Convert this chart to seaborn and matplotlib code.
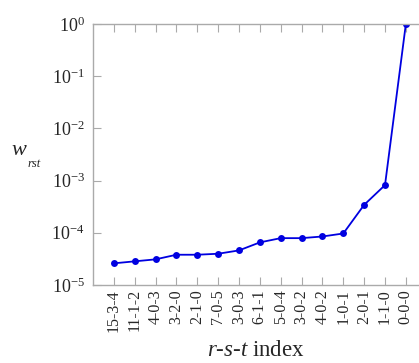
import matplotlib
matplotlib.use("Agg")
import matplotlib.pyplot as plt
import seaborn as sns
import pandas as pd
import numpy as np

labels = ["15-3-4", "11-1-2", "4-0-3", "3-2-0", "2-1-0", "7-0-5", "3-0-3",
          "6-1-1", "5-0-4", "3-0-2", "4-0-2", "1-0-1", "2-0-1", "1-1-0", "0-0-0"]
values = [2.6e-5, 2.84e-5, 3.1e-5, 3.8e-5, 3.8e-5, 3.97e-5, 4.6e-5,
          6.55e-5, 7.9e-5, 7.9e-5, 8.5e-5, 9.7e-5, 3.43e-4, 8.2e-4, 1.0]

sns.set_style("white")
plt.rcParams['font.family'] = ['Liberation Serif', 'DejaVu Serif']
plt.rcParams['mathtext.fontset'] = 'custom'
plt.rcParams['mathtext.rm'] = 'Liberation Serif'
plt.rcParams['mathtext.it'] = 'Liberation Serif:italic'
plt.rcParams['mathtext.bf'] = 'Liberation Serif:bold'

df = pd.DataFrame({"idx": np.arange(len(labels)), "w": values})

fig = plt.figure(figsize=(4.19, 3.63), dpi=100)
ax = fig.add_axes([93/419, 78/363, 1 - 93/419, (285-24)/363])

sns.lineplot(data=df, x="idx", y="w", ax=ax, color="#0000e0", marker="o",
             markersize=5, markeredgewidth=0, linewidth=1.3)

ax.set_yscale("log")
ax.set_ylim(1e-5, 1)
ax.set_yticks([1e-5, 1e-4, 1e-3, 1e-2, 1e-1, 1])
ax.minorticks_off()
ax.set_xlim(-1, 14.63)
ax.set_xticks(df["idx"])
ax.set_xticklabels(labels, rotation=90)

gray = "#aaaaaa"
for side in ["left", "bottom", "top"]:
    ax.spines[side].set_color(gray)
    ax.spines[side].set_linewidth(1.0)
ax.spines["right"].set_visible(False)

ax.tick_params(axis="y", which="both", direction="in", length=6, color=gray,
               labelsize=13, left=True, right=False, pad=6)
ax.tick_params(axis="x", which="both", direction="in", length=6, color=gray,
               labelsize=11.5, bottom=True, top=True, pad=3)

ax.set_xlabel(r"$r$-$s$-$t$ index", fontsize=16.5, labelpad=6)
ax.set_ylabel("")

fig.text(11/419, 1 - 155/363, "w", fontsize=16, fontstyle="italic",
         ha="left", va="baseline")
fig.text(27/419, 1 - 167/363, "rst", fontsize=9, fontstyle="italic",
         ha="left", va="baseline")

fig.savefig("out.png", dpi=100)
